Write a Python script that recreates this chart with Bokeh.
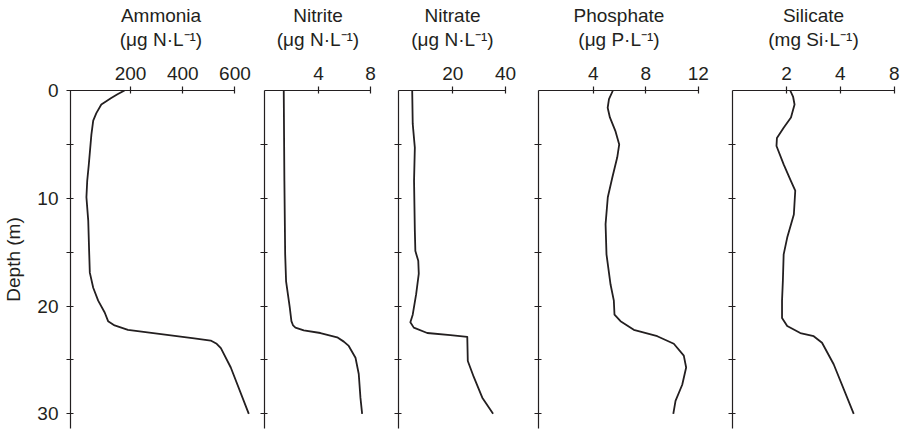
from bokeh.plotting import figure
from bokeh.layouts import row
from bokeh.models import Range1d, FixedTicker
from bokeh.embed import file_html
from bokeh.resources import INLINE

FONT = "Liberation Sans"
INK = "#231f20"
DEPTH_MAX = 31.36

# Vertical profiles: depth (m) and concentration
ammonia_depth = [0, 0.35, 0.7, 1.3, 2.1, 2.8, 4.1, 6.9, 8.4, 9.9, 12.1, 14.6, 16.9, 18.3,
                 19.5, 20.6, 21.4, 21.8, 22.2, 22.6, 23.0, 23.2, 23.5, 23.9, 25.7, 30.0]
ammonia = [177, 150, 126, 88, 69, 57, 50, 40, 34, 31, 38, 41, 44, 57,
           76, 101, 114, 139, 190, 317, 444, 507, 530, 546, 584, 653]

nitrite_depth = [0, 8.4, 15.2, 17.7, 20.1, 21.4, 21.8, 22.0, 22.25, 22.5, 22.9, 23.3, 23.7,
                 24.8, 26.3, 28.5, 30.0]
nitrite = [1.33, 1.38, 1.44, 1.51, 1.79, 1.92, 2.05, 2.23, 2.87, 4.15, 5.44, 5.95, 6.33,
           6.85, 7.1, 7.23, 7.36]

nitrate_depth = [0, 3.1, 5.3, 8.4, 13.0, 14.9, 15.8, 17.0, 18.9, 20.8, 21.5,
                 22.0, 22.5, 22.7, 22.85, 25.1, 26.6, 28.5, 30.0]
nitrate = [4.6, 4.8, 5.6, 5.3, 5.6, 5.8, 6.9, 7.1, 6.1, 4.8, 3.9,
           5.2, 10.3, 19.1, 25.5, 25.7, 28.0, 31.2, 35.3]

phosphate_depth = [0, 0.8, 1.6, 2.5, 3.8, 5.0, 6.2, 8.1, 9.9, 12.4, 15.2, 18.0, 19.5,
                   20.8, 21.4, 22.2, 22.8, 23.5, 24.6, 25.7, 27.3, 28.8, 30.0]
phosphate = [5.5, 5.2, 5.1, 5.27, 5.7, 5.98, 5.83, 5.45, 5.11, 4.94, 5.01, 5.32, 5.57,
             5.62, 6.08, 7.09, 8.88, 10.14, 10.9, 11.08, 10.78, 10.27, 10.1]

silicate_depth = [0, 0.6, 1.3, 2.5, 3.45, 4.4, 5.15, 6.85, 8.4, 9.3, 11.5, 13.65, 15.2,
                  17.7, 19.5, 21.1, 21.85, 22.5, 22.8, 23.4, 25.4, 30.0]
silicate = [2.10, 2.18, 2.22, 2.12, 1.93, 1.77, 1.76, 1.93, 2.12, 2.24, 2.20, 2.02, 1.93,
            1.91, 1.89, 1.89, 2.02, 2.39, 2.84, 3.16, 3.67, 4.75]

depth_ticks = [5, 10, 15, 20, 25, 30]
depth_labels = {5: "", 10: "10", 15: "", 20: "20", 25: "", 30: "30"}


def panel(label, start, end, axis_end, ticks, depth, values, left, frame_w, right,
          first=False, log=False):
    p = figure(width=left + frame_w + right, height=440,
               x_range=Range1d(start, end), y_range=Range1d(DEPTH_MAX, 0),
               x_axis_location="above", x_axis_type="log" if log else "linear",
               output_backend="svg", toolbar_location=None,
               min_border_left=left, min_border_right=right,
               min_border_top=90, min_border_bottom=12)
    p.outline_line_color = None
    p.xgrid.visible = False
    p.ygrid.visible = False
    p.background_fill_color = "white"
    p.border_fill_color = "white"

    xa = p.xaxis[0]
    xa.ticker = FixedTicker(ticks=ticks)
    xa.major_label_overrides = {t: str(t) for t in ticks}
    xa.bounds = (start, axis_end)
    xa.minor_tick_line_color = None
    xa.major_tick_in = 3
    xa.major_tick_out = 4
    xa.axis_line_color = INK
    xa.axis_line_width = 1.2
    xa.major_tick_line_color = INK
    xa.major_tick_line_width = 1.2
    xa.major_label_text_font = FONT
    xa.major_label_text_font_size = "19px"
    xa.major_label_text_color = INK
    xa.major_label_standoff = 7
    xa.axis_label = label
    xa.axis_label_text_font = FONT
    xa.axis_label_text_font_size = "19px"
    xa.axis_label_text_font_style = "normal"
    xa.axis_label_text_color = INK
    xa.axis_label_text_line_height = 1.1
    xa.axis_label_standoff = 14

    ya = p.yaxis[0]
    ya.minor_tick_line_color = None
    ya.major_tick_in = 3
    ya.major_tick_out = 4
    ya.axis_line_color = INK
    ya.axis_line_width = 1.2
    ya.major_tick_line_color = INK
    ya.major_tick_line_width = 1.2
    if first:
        ya.ticker = FixedTicker(ticks=[0] + depth_ticks)
        ya.major_label_overrides = {0: "0", **depth_labels}
        ya.major_label_text_font = FONT
        ya.major_label_text_font_size = "19px"
        ya.major_label_text_color = INK
        ya.major_label_standoff = 8
        ya.axis_label = "Depth (m)"
        ya.axis_label_text_font = FONT
        ya.axis_label_text_font_size = "19px"
        ya.axis_label_text_font_style = "normal"
        ya.axis_label_text_color = INK
        ya.axis_label_standoff = 10
    else:
        # depth ticks only; the shared depth scale is labelled on the first panel
        ya.ticker = FixedTicker(ticks=depth_ticks)
        ya.major_label_overrides = {t: "" for t in depth_ticks}
        ya.major_label_standoff = 0

    p.line(values, depth, line_color=INK, line_width=1.8, line_join="round")
    return p


p1 = panel("Ammonia\n(\u03bcg N\u00b7L\u207b\u00b9)", -30, -30 + 182 / 0.2625, 600,
           [200, 400, 600], ammonia_depth, ammonia, 69, 182, 1, first=True)
p2 = panel("Nitrite\n(\u03bcg N\u00b7L\u207b\u00b9)", -0.15, -0.15 + 107 / 13.0, 8,
           [4, 8], nitrite_depth, nitrite, 12, 107, 8)
p3 = panel("Nitrate\n(\u03bcg N\u00b7L\u207b\u00b9)", -0.6, -0.6 + 108 / 2.635, 40,
           [20, 40], nitrate_depth, nitrate, 19, 108, 13)
p4 = panel("Phosphate\n(\u03bcg P\u00b7L\u207b\u00b9)", -0.17, -0.17 + 161 / 13.125, 12,
           [4, 8, 12], phosphate_depth, phosphate, 19, 161, 14)
p5 = panel("Silicate\n(mg Si\u00b7L\u207b\u00b9)", 1, 8.02, 8,
           [2, 4, 8], silicate_depth, silicate, 19, 162, 7, log=True)

layout = row(p1, p2, p3, p4, p5, spacing=0)
open("out.html", "w").write(file_html(layout, INLINE))
